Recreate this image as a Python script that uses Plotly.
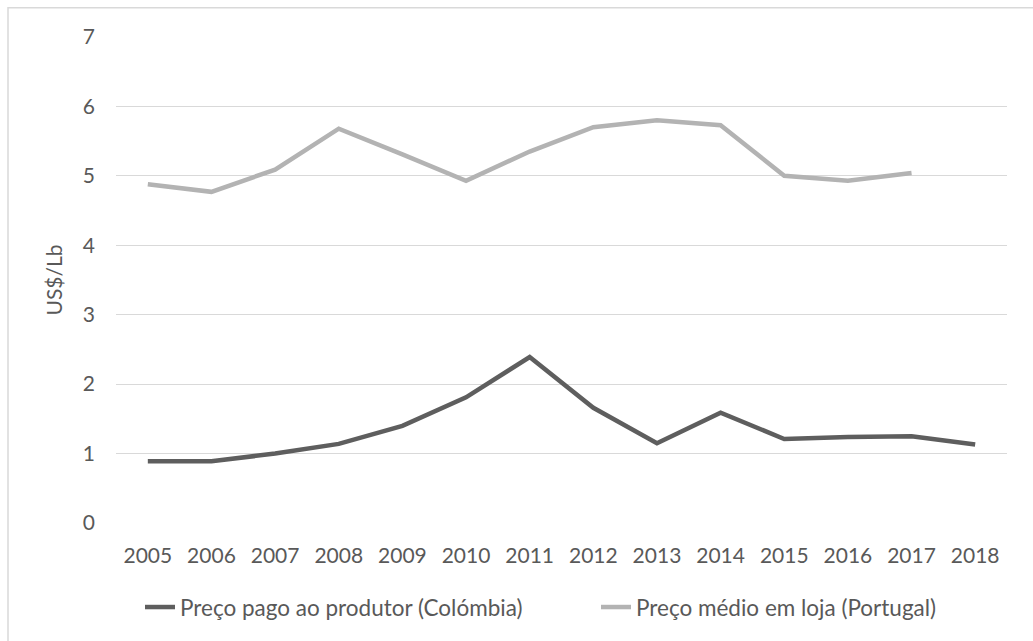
import plotly.graph_objects as go

years = ["2005", "2006", "2007", "2008", "2009", "2010", "2011",
         "2012", "2013", "2014", "2015", "2016", "2017", "2018"]
produtor_colombia = [0.89, 0.89, 1.00, 1.14, 1.40, 1.81, 2.39,
                     1.66, 1.15, 1.59, 1.21, 1.24, 1.25, 1.13]
loja_portugal = [4.88, 4.77, 5.09, 5.68, 5.31, 4.93, 5.35,
                 5.70, 5.80, 5.73, 5.00, 4.93, 5.04, None]
name_colombia = "Preço pago ao produtor (Colómbia)"
name_portugal = "Preço médio em loja (Portugal)"
y_ticks = [0, 1, 2, 3, 4, 5, 6, 7]

FONT = "Lato"
TXT = "#595959"

fig = go.Figure()
fig.add_trace(go.Scatter(x=years, y=produtor_colombia, name=name_colombia,
                         mode="lines", line=dict(color="#5e5e5e", width=4.5),
                         legend="legend"))
fig.add_trace(go.Scatter(x=years, y=loja_portugal, name=name_portugal,
                         mode="lines", line=dict(color="#b3b3b3", width=4.5),
                         legend="legend2"))

W, H = 1033, 641
ml, mr, mt, mb = 116, 26, 37.3, 118.3
pw, ph = W - ml - mr, H - mt - mb

# outer chart frame (only left and top edges fall inside the picture)
fig.add_shape(type="rect", xref="paper", yref="paper",
              x0=(8 - ml) / pw, x1=(W + 40 - ml) / pw,
              y0=-(H + 40 - mt - ph) / ph, y1=(H - 8 - mb) / ph,
              line=dict(color="#d9d9d9", width=1.5), fillcolor="rgba(0,0,0,0)",
              layer="below")

leg_y = -(607 - mt - ph) / ph
leg_common = dict(orientation="h", xanchor="left", yanchor="middle", y=leg_y,
                  font=dict(family=FONT, size=22.5, color=TXT),
                  itemwidth=30, bgcolor="rgba(0,0,0,0)")

fig.update_layout(
    width=W, height=H,
    margin=dict(l=ml, r=mr, t=mt, b=mb, pad=0, autoexpand=False),
    paper_bgcolor="white", plot_bgcolor="white",
    font=dict(family=FONT, size=21, color=TXT),
    showlegend=True,
    legend=dict(x=(140 - ml) / pw, **leg_common),
    legend2=dict(x=(596 - ml) / pw, **leg_common),
    xaxis=dict(type="category", range=[-0.5, 13.5], showgrid=False,
               showline=False, zeroline=False, ticks="",
               tickfont=dict(family=FONT, size=21, color=TXT),
               ticklabelstandoff=18),
    yaxis=dict(range=[0, 7], tickvals=y_ticks, showgrid=True,
               gridcolor="#d9d9d9", gridwidth=1.3, zeroline=False,
               showline=False, ticks="",
               tickfont=dict(family=FONT, size=21, color=TXT),
               ticklabelstandoff=20,
               title=dict(text="US$/Lb", font=dict(family=FONT, size=21, color=TXT),
                          standoff=14)),
)

fig.write_html("out.html")
